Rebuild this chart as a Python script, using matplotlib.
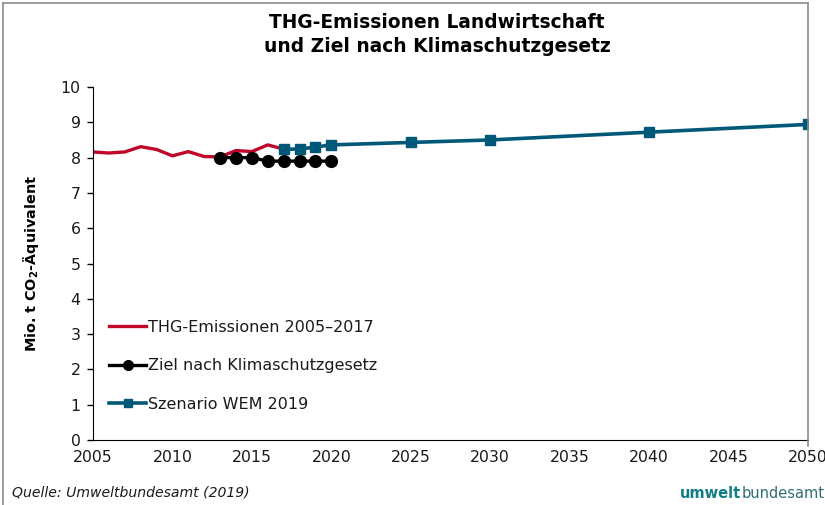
import matplotlib
matplotlib.use("Agg")
import matplotlib.pyplot as plt
from matplotlib.lines import Line2D

years_hist = [2005, 2006, 2007, 2008, 2009, 2010, 2011, 2012, 2013, 2014, 2015, 2016, 2017]
thg_hist = [8.16, 8.13, 8.16, 8.31, 8.23, 8.05, 8.17, 8.03, 8.02, 8.20, 8.17, 8.36, 8.24]

years_ziel = [2013, 2014, 2015, 2016, 2017, 2018, 2019, 2020]
ziel = [8.0, 8.0, 8.0, 7.9, 7.9, 7.9, 7.9, 7.9]

years_wem = [2017, 2018, 2019, 2020, 2025, 2030, 2040, 2050]
wem = [8.24, 8.24, 8.30, 8.36, 8.43, 8.50, 8.72, 8.94]

x_ticks = [2005, 2010, 2015, 2020, 2025, 2030, 2035, 2040, 2045, 2050]
y_ticks = list(range(0, 11))

labels = ["THG-Emissionen 2005\u20132017", "Ziel nach Klimaschutzgesetz", "Szenario WEM 2019"]

RED = "#C0062B"
BLUE = "#005879"

plt.rcParams['font.family'] = ['DejaVu Sans']
fig = plt.figure(figsize=(8.25, 5.05), dpi=100)
W, H = 825, 505
ax = fig.add_axes([93 / W, 1 - 440 / H, (808 - 93) / W, (440 - 87) / H])

ax.plot(years_hist, thg_hist, color=RED, lw=2.4, zorder=2)
ax.plot(years_ziel, ziel, color="black", lw=2.4, marker="o", ms=8.5, zorder=3)
ax.plot(years_wem, wem, color=BLUE, lw=2.6, marker="s", ms=6.5, zorder=4)

ax.set_xlim(2005, 2050)
ax.set_ylim(0, 10)
ax.set_xticks(x_ticks)
ax.set_yticks(y_ticks)
ax.tick_params(axis='x', length=0, pad=7, labelsize=11.3)
ax.tick_params(axis='y', length=4, direction='out', width=1, pad=5, labelsize=11.3)
for t in ax.get_xticklabels() + ax.get_yticklabels():
    t.set_color("#1a1a1a")
ax.spines['top'].set_visible(False)
ax.spines['right'].set_visible(False)
ax.spines['left'].set_color("black")
ax.spines['bottom'].set_color("black")

ax.set_ylabel(r"Mio. t CO$_\mathbf{2}$-Äquivalent", fontsize=10.4, fontweight='bold', labelpad=14)

handles = [
    Line2D([], [], color=RED, lw=2.4),
    Line2D([], [], color="black", lw=2.4, marker="o", ms=7),
    Line2D([], [], color=BLUE, lw=2.6, marker="s", ms=6),
]
leg = ax.legend(handles, labels, loc="lower left", bbox_to_anchor=(0.014, 0.062),
                frameon=False, fontsize=11.5, handlelength=2.3, handletextpad=0.1,
                labelspacing=1.47, borderaxespad=0)
for t in leg.get_texts():
    t.set_color("#1a1a1a")

fig.text(437 / W, 1 - 22 / H, "THG-Emissionen Landwirtschaft", ha="center", va="center",
         fontsize=13.4, fontweight="bold")
fig.text(437 / W, 1 - 46 / H, "und Ziel nach Klimaschutzgesetz", ha="center", va="center",
         fontsize=13.4, fontweight="bold")

fig.text(12 / W, 1 - 493 / H, "Quelle: Umweltbundesamt (2019)", ha="left", va="center",
         fontsize=10.1, style="italic", color="#1a1a1a")

t1 = fig.text(680 / W, 1 - 494 / H, "umwelt", ha="left", va="center", fontsize=10.5,
              fontweight="bold", color="#117E83")
fig.canvas.draw()
bb = t1.get_window_extent()
fig.text(bb.x1 / W, 1 - 494 / H, "bundesamt", ha="left", va="center", fontsize=10.5,
         color="#2F6F73")

# outer frame
frame_col = "#8c8c8c"
fig.add_artist(Line2D([3 / W, 3 / W], [0, 1 - 3 / H], color=frame_col, lw=1.2, transform=fig.transFigure))
fig.add_artist(Line2D([3 / W, 808 / W], [1 - 3 / H, 1 - 3 / H], color=frame_col, lw=1.2, transform=fig.transFigure))
fig.add_artist(Line2D([808 / W, 808 / W], [1 - 3 / H, 1 - 446 / H], color=frame_col, lw=1.2, transform=fig.transFigure))

fig.savefig("out.png", dpi=100)
